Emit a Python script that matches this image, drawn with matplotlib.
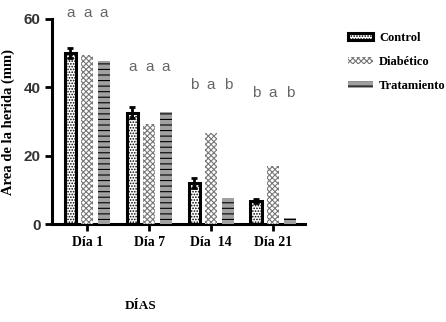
import matplotlib
matplotlib.use('Agg')
import matplotlib.pyplot as plt
import numpy as np

dias = ['Día 1', 'Día 7', 'Día  14', 'Día 21']
control = [50.0, 32.6, 12.0, 6.8]
control_err = [1.5, 1.6, 1.4, 0.6]
diabetico = [49.6, 29.2, 26.6, 17.0]
tratamiento = [47.6, 32.8, 7.6, 1.8]
letras = [['a', 'a', 'a'], ['a', 'a', 'a'], ['b', 'a', 'b'], ['b', 'a', 'b']]
letras_y = [61.7, 45.9, 40.6, 38.3]

plt.rcParams['hatch.linewidth'] = 0.8

fig = plt.figure(figsize=(4.46, 3.22), dpi=100)
ax = fig.add_axes([0.117, 0.304, 0.567, 0.637])

x = np.arange(len(dias))
off = 0.27
w = 0.19

ax.bar(x - off, control, w, yerr=control_err, color='white',
       edgecolor='black', linewidth=2.2, hatch='......',
       error_kw=dict(ecolor='black', elinewidth=2, capsize=2, capthick=2),
       label='Control', zorder=3)
ax.bar(x, diabetico, w, color='white', edgecolor='#777777', linewidth=0,
       hatch='xxxxxx', label='Diabético', zorder=3)
ax.bar(x + off, tratamiento, w, color='#a0a0a0', edgecolor='black',
       linewidth=0, hatch='---', label='Tratamiento', zorder=3)

for i, grp in enumerate(letras):
    for j, let in enumerate(grp):
        ax.text(x[i] + (j - 1) * off, letras_y[i], let, ha='center',
                va='center', color='#666666', fontsize=11,
                family='Liberation Sans', clip_on=False)

ax.set_xlim(-0.565, 3.516)
ax.set_ylim(0, 60)
ax.set_yticks([0, 20, 40, 60])
ax.set_xticks(x)
ax.set_xticklabels(dias, family='Liberation Serif', fontweight='bold',
                   fontsize=10)
for t in ax.get_yticklabels():
    t.set_family('Liberation Sans')
    t.set_fontweight('bold')
    t.set_fontsize(11)
    t.set_color('#333333')
ax.tick_params(axis='both', width=2, length=5, direction='out')
ax.spines['top'].set_visible(False)
ax.spines['right'].set_visible(False)
ax.spines['left'].set_linewidth(2.2)
ax.spines['bottom'].set_linewidth(2.2)
ax.set_ylabel('Área de la herida (mm)', family='Liberation Serif',
              fontweight='bold', fontsize=10.5, labelpad=6)

fig.text(0.315, 0.04, 'DÍAS', family='Liberation Serif', fontweight='bold',
         fontsize=9.5, ha='center')

ax.legend(loc='upper left', bbox_to_anchor=(0.755, 0.935),
          bbox_transform=fig.transFigure, frameon=False,
          prop={'family': 'Liberation Serif', 'weight': 'bold', 'size': 9},
          handlelength=2.0, handleheight=0.5, handletextpad=0.5,
          labelspacing=0.95)

fig.savefig('out.png', dpi=100)
